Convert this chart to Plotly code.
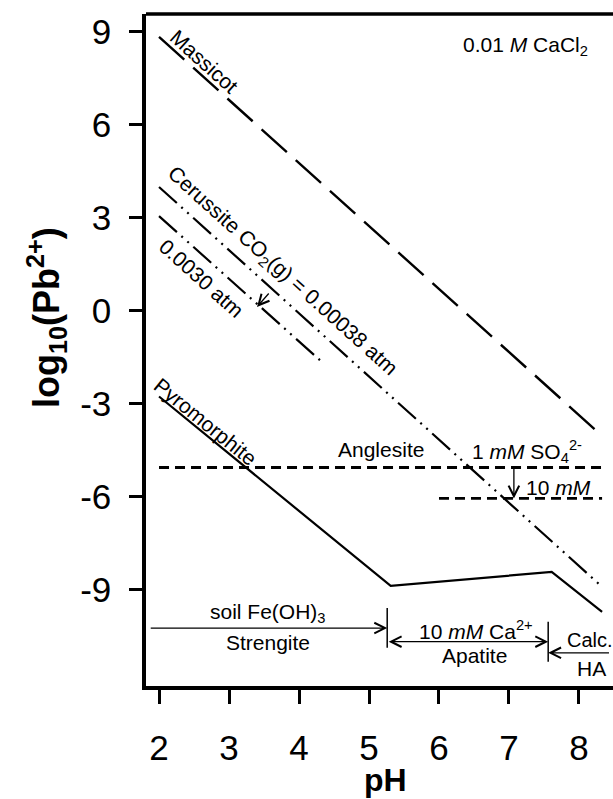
import plotly.graph_objects as go

# ---------------- data ----------------
massicot_ph = [2.0, 8.33]
massicot_log = [8.84, -4.03]

cerussite038_ph = [2.0, 8.33]          # CO2(g) = 0.00038 atm
cerussite038_log = [4.0, -8.90]

cerussite30_ph = [2.0, 4.33]           # CO2(g) = 0.0030 atm
cerussite30_log = [3.06, -1.65]

pyromorphite_ph = [2.0, 5.31, 7.61, 8.33]
pyromorphite_log = [-2.76, -8.87, -8.42, -9.71]

anglesite1_ph = [2.0, 8.33]            # 1 mM SO4
anglesite1_log = [-5.05, -5.05]

anglesite10_ph = [6.0, 8.33]           # 10 mM SO4
anglesite10_log = [-6.05, -6.05]

# control-phase boundaries (pH)
strengite_end = 5.26
apatite_end = 7.56

x_ticks = [2, 3, 4, 5, 6, 7, 8]
y_ticks = [9, 6, 3, 0, -3, -6, -9]

FONT = "Arial, Liberation Sans, sans-serif"
BLACK = "black"

fig = go.Figure()

def add_line(xs, ys, dash, width=2.2):
    fig.add_trace(go.Scatter(x=xs, y=ys, mode="lines",
                             line=dict(color=BLACK, width=width, dash=dash),
                             hoverinfo="skip", showlegend=False))

add_line(massicot_ph, massicot_log, "34px,12px", 2.4)
add_line(cerussite038_ph, cerussite038_log, "24px,6px,2px,6px,2px,6px", 2.2)
add_line(cerussite30_ph, cerussite30_log, "24px,6px,2px,6px,2px,6px", 2.2)
add_line(pyromorphite_ph, pyromorphite_log, "solid", 2.2)
add_line(anglesite1_ph, anglesite1_log, "10px,6px", 2.8)
add_line(anglesite10_ph, anglesite10_log, "10px,6px", 2.8)

ann = []

def text(x, y, t, size=21, angle=0, xanchor="center", yanchor="middle"):
    ann.append(dict(x=x, y=y, xref="x", yref="y", text=t, showarrow=False,
                    textangle=angle, xanchor=xanchor, yanchor=yanchor,
                    font=dict(family=FONT, size=size, color=BLACK)))

def arrow(x_head, y_head, x_tail, y_tail, both=False):
    ann.append(dict(x=x_head, y=y_head, ax=x_tail, ay=y_tail,
                    xref="x", yref="y", axref="x", ayref="y", text="",
                    showarrow=True, arrowhead=5, startarrowhead=5,
                    arrowside="end+start" if both else "end",
                    arrowsize=1.6, startarrowsize=1.6, arrowwidth=1.3,
                    arrowcolor=BLACK, standoff=0, startstandoff=0))

# rotated line labels
text(2.65, 8.06, "Massicot", 21, 42)
text(3.77, 1.27, "Cerussite CO<sub>2</sub>(g) = 0.00038 atm", 21, 42)
text(2.61, 1.05, "0.0030 atm", 21, 42)
text(2.66, -3.57, "Pyromorphite", 21, 39)

# anglesite labels
text(5.17, -4.48, "Anglesite", 21)
text(7.26, -4.55, "1 <i>mM</i> SO<sub>4</sub><sup>2-</sup>", 21)
text(7.71, -5.71, "10 <i>mM</i>", 21)
arrow(7.07, -6.05, 7.07, -5.05)

# CO2 arrow
arrow(3.40, 0.13, 3.586, 0.61)

# top-right condition
text(7.24, 8.55, "0.01 <i>M</i> CaCl<sub>2</sub>", 21)

# bottom control-phase region labels
text(3.557, -9.74, "soil Fe(OH)<sub>3</sub>", 21)
text(3.55, -10.71, "Strengite", 21)
arrow(strengite_end, -10.23, 1.86, -10.23)

text(6.53, -10.29, "10 <i>mM</i> Ca<sup>2+</sup>", 21)
text(6.51, -11.13, "Apatite", 21)
arrow(apatite_end, -10.67, strengite_end, -10.67, both=True)

text(7.80, -10.61, "Calc.", 20, xanchor="left")
text(7.94, -11.52, "HA", 21, xanchor="left")
arrow(apatite_end, -11.03, 8.45, -11.03)

# axis titles as annotations
ann.append(dict(x=(47 - 146) / 467, y=(686 - 318) / 672, xref="paper", yref="paper",
                text="<b>log<sub>10</sub>(Pb<sup>2+</sup>)</b>", showarrow=False,
                textangle=-90, xanchor="center", yanchor="middle",
                font=dict(family=FONT, size=36, color=BLACK)))
ann.append(dict(x=5.23, y=(686 - 780) / 672, xref="x", yref="paper", text="<b>pH</b>",
                showarrow=False, xanchor="center", yanchor="middle",
                font=dict(family=FONT, size=32, color=BLACK)))

shapes = [
    # vertical boundary bars
    dict(type="line", xref="x", yref="y", x0=strengite_end, x1=strengite_end,
         y0=-9.58, y1=-10.87, line=dict(color=BLACK, width=1.5)),
    dict(type="line", xref="x", yref="y", x0=apatite_end, x1=apatite_end,
         y0=-10.03, y1=-11.32, line=dict(color=BLACK, width=1.5)),
    # top frame line
    dict(type="line", xref="paper", yref="paper", x0=0, x1=1, y0=1, y1=1,
         line=dict(color=BLACK, width=3.5)),
]

fig.update_layout(
    width=613, height=799,
    margin=dict(l=146, r=0, t=14, b=113),
    paper_bgcolor="white", plot_bgcolor="white",
    annotations=ann, shapes=shapes,
    font=dict(family=FONT, color=BLACK),
    xaxis=dict(range=[1.814, 8.486], tickvals=x_ticks,
               ticktext=[str(v) for v in x_ticks],
               showgrid=False, zeroline=False, showline=True,
               linecolor=BLACK, linewidth=3.5, mirror=False,
               ticks="outside", ticklen=14, tickwidth=3, tickcolor=BLACK,
               ticklabelstandoff=14,
               tickfont=dict(family=FONT, size=35, color=BLACK)),
    yaxis=dict(range=[-12.10, 9.58], tickvals=y_ticks,
               ticktext=[str(v) for v in y_ticks],
               showgrid=False, zeroline=False, showline=True,
               linecolor=BLACK, linewidth=3.5, mirror=False,
               ticks="outside", ticklen=13, tickwidth=3, tickcolor=BLACK,
               ticklabelstandoff=11,
               tickfont=dict(family=FONT, size=35, color=BLACK)),
)

fig.write_html("out.html")
